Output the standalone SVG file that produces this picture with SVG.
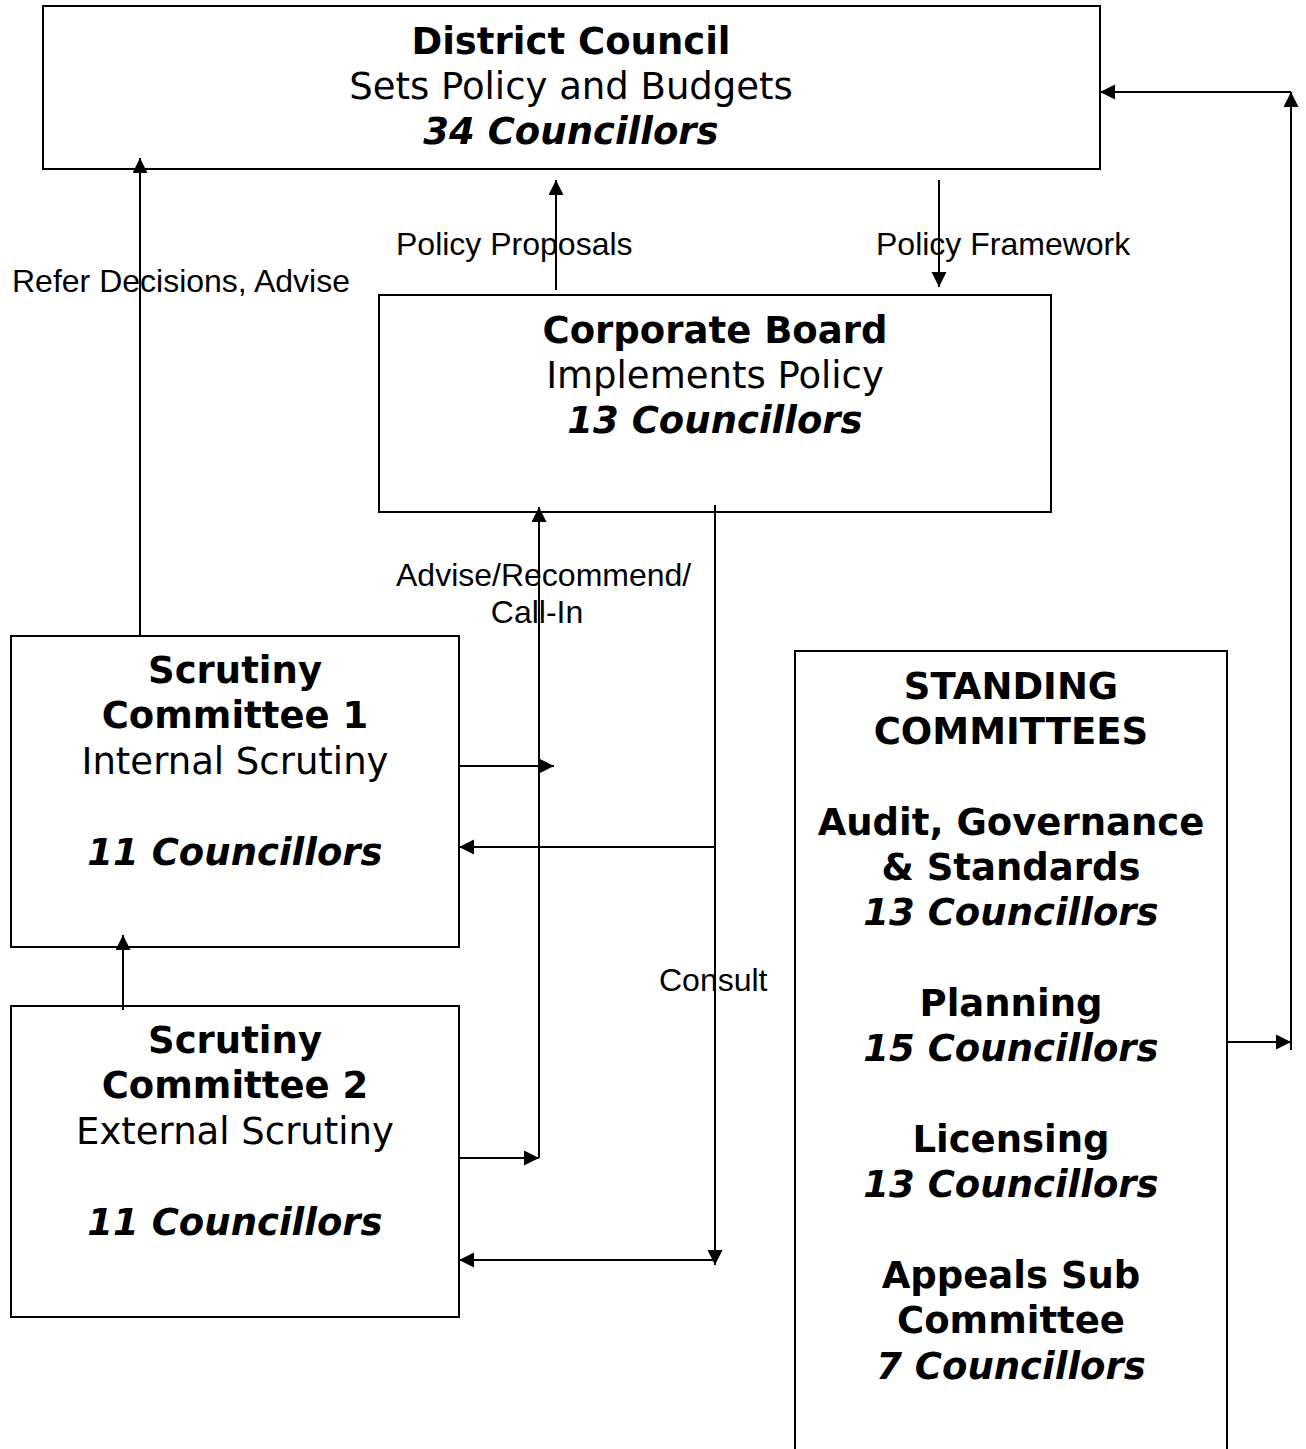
<svg xmlns="http://www.w3.org/2000/svg" width="1306" height="1449" viewBox="0 0 1306 1449">
  <style>
    .box { fill: #fff; stroke: #000; stroke-width: 2; }
    .t { font-family: "DejaVu Sans", Verdana, sans-serif; font-size: 37px; fill: #000; text-anchor: middle; }
    .b { font-weight: bold; }
    .bi { font-weight: bold; font-style: italic; }
    .lbl { font-family: "Liberation Sans", Arial, sans-serif; font-size: 32px; fill: #000; }
    .c { fill: none; stroke: #000; stroke-width: 2; }
    .a { marker-end: url(#arrow); }
  </style>
  <defs>
    <marker id="arrow" markerUnits="userSpaceOnUse" markerWidth="16" markerHeight="16" refX="15" refY="7.5" orient="auto">
      <path d="M0,0 L15,7.5 L0,15 Z" fill="#000"/>
    </marker>
  </defs>
  <rect width="1306" height="1449" fill="#fff"/>

  <!-- nodes -->
  <g id="district-council">
    <rect class="box" x="43" y="6" width="1057" height="163"/>
    <text class="t b" x="571" y="54">District Council</text>
    <text class="t" x="571" y="99">Sets Policy and Budgets</text>
    <text class="t bi" x="571" y="144">34 Councillors</text>
  </g>

  <g id="corporate-board">
    <rect class="box" x="379" y="295" width="672" height="217"/>
    <text class="t b" x="715" y="343">Corporate Board</text>
    <text class="t" x="715" y="388">Implements Policy</text>
    <text class="t bi" x="715" y="433">13 Councillors</text>
  </g>

  <g id="scrutiny-1">
    <rect class="box" x="11" y="636" width="448" height="311"/>
    <text class="t b" x="235" y="683">Scrutiny</text>
    <text class="t b" x="235" y="728">Committee 1</text>
    <text class="t" x="235" y="774">Internal Scrutiny</text>
    <text class="t bi" x="235" y="865">11 Councillors</text>
  </g>

  <g id="scrutiny-2">
    <rect class="box" x="11" y="1006" width="448" height="311"/>
    <text class="t b" x="235" y="1053">Scrutiny</text>
    <text class="t b" x="235" y="1098">Committee 2</text>
    <text class="t" x="235" y="1144">External Scrutiny</text>
    <text class="t bi" x="235" y="1235">11 Councillors</text>
  </g>

  <g id="standing-committees">
    <path class="c" d="M795,1460 V651 H1227 V1460"/>
    <text class="t b" x="1011" y="699">STANDING</text>
    <text class="t b" x="1011" y="744">COMMITTEES</text>
    <text class="t b" x="1011" y="835">Audit, Governance</text>
    <text class="t b" x="1011" y="880">&amp; Standards</text>
    <text class="t bi" x="1011" y="925">13 Councillors</text>
    <text class="t b" x="1011" y="1016">Planning</text>
    <text class="t bi" x="1011" y="1061">15 Councillors</text>
    <text class="t b" x="1011" y="1152">Licensing</text>
    <text class="t bi" x="1011" y="1197">13 Councillors</text>
    <text class="t b" x="1011" y="1288">Appeals Sub</text>
    <text class="t b" x="1011" y="1333">Committee</text>
    <text class="t bi" x="1011" y="1379">7 Councillors</text>
  </g>

  <!-- connectors -->
  <g id="connectors">
    <!-- Scrutiny 1 refers decisions up to the Council -->
    <path class="c a" d="M140,636 V158"/>
    <!-- Policy proposals / framework between Council and Board -->
    <path class="c a" d="M556,290 V180"/>
    <path class="c a" d="M939,180 V287"/>
    <!-- Advise / recommend / call-in trunk into the Board -->
    <path class="c a" d="M539,1158 V507"/>
    <path class="c a" d="M459,766 H554"/>
    <path class="c a" d="M459,1158 H539"/>
    <!-- Consult trunk from the Board -->
    <path class="c a" d="M715,505 V1265"/>
    <path class="c a" d="M715,847 H459"/>
    <path class="c a" d="M715,1260 H459"/>
    <!-- Scrutiny 2 up to Scrutiny 1 -->
    <path class="c a" d="M123,1010 V935"/>
    <!-- Standing committees report back to the Council -->
    <path class="c a" d="M1227,1042 H1291"/>
    <path class="c a" d="M1291,1050 V92"/>
    <path class="c a" d="M1291,92 H1100"/>
  </g>

  <!-- connector labels -->
  <g id="labels">
    <text class="lbl" x="12" y="292">Refer Decisions, Advise</text>
    <text class="lbl" x="396" y="255">Policy Proposals</text>
    <text class="lbl" x="876" y="255">Policy Framework</text>
    <text class="lbl" x="396" y="586">Advise/Recommend/</text>
    <text class="lbl" x="537" y="623" text-anchor="middle">Call-In</text>
    <text class="lbl" x="659" y="991">Consult</text>
  </g>
</svg>
